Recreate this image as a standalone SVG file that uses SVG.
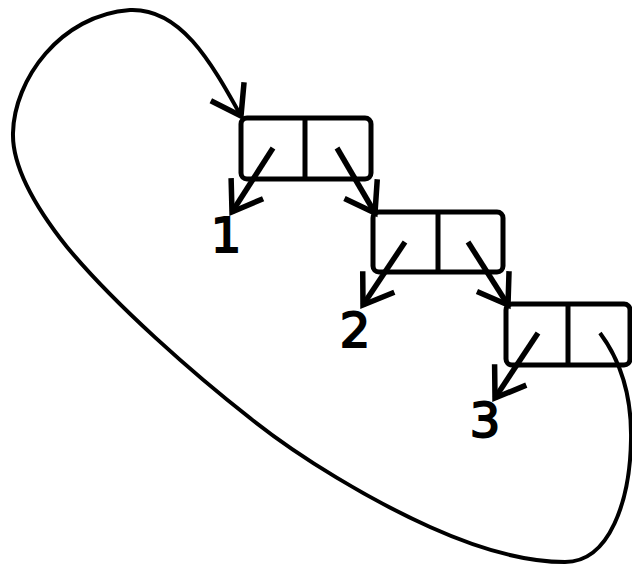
<svg xmlns="http://www.w3.org/2000/svg" width="632" height="564" viewBox="0 0 632 564">
<style>
.box{fill:none;stroke:#000;stroke-width:5}
.div{stroke:#000;stroke-width:5}
.ptr{stroke:#000;stroke-width:5.5;fill:none;marker-end:url(#ah)}
.loop{stroke:#000;stroke-width:4;fill:none;marker-end:url(#ah)}
.lbl{font-family:"DejaVu Sans",sans-serif;font-size:48px;fill:#000;stroke:#000;stroke-width:2;text-anchor:middle}
</style>
<defs>
<marker id="ah" markerUnits="userSpaceOnUse" viewBox="-40 -30 50 60" markerWidth="50" markerHeight="60" refX="0" refY="0" orient="auto" overflow="visible">
<path d="M -28 -19 L 0 0 L -28 19" fill="none" stroke="#000" stroke-width="5.5" stroke-linejoin="miter"/>
</marker>
</defs>
<rect width="632" height="564" fill="#fff"/>
<g id="node1">
<rect class="box" x="241" y="118" width="130" height="61" rx="6"/>
<line class="div" x1="305" y1="118" x2="305" y2="179"/>
</g>
<g id="node2">
<rect class="box" x="373" y="212" width="130" height="60" rx="6"/>
<line class="div" x1="438" y1="212" x2="438" y2="272"/>
</g>
<g id="node3">
<rect class="box" x="506" y="304" width="124" height="61" rx="6"/>
<line class="div" x1="568" y1="304" x2="568" y2="365"/>
</g>
<g id="label1"><text class="lbl" x="226" y="252">1</text></g>
<g id="label2"><text class="lbl" x="355" y="347">2</text></g>
<g id="label3"><text class="lbl" x="485" y="437">3</text></g>
<g id="connectors">
<line class="ptr" x1="273" y1="148" x2="232" y2="212"/>
<line class="ptr" x1="337" y1="148" x2="375" y2="213"/>
<line class="ptr" x1="405" y1="242" x2="363" y2="305"/>
<line class="ptr" x1="468" y1="242" x2="508" y2="305"/>
<line class="ptr" x1="538" y1="333" x2="495" y2="398"/>
<path class="loop" d="M 600 333 C 620 360 632 395 631 440 C 630 500 610 562 565 562 C 520 562 470 545 430 527 C 370 500 300 458 250 418 C 195 375 115 305 67 247 C 40 213 12 170 13 133 C 14 80 60 15 130 10 C 180 8 210 60 241 116"/>
</g>
</svg>
